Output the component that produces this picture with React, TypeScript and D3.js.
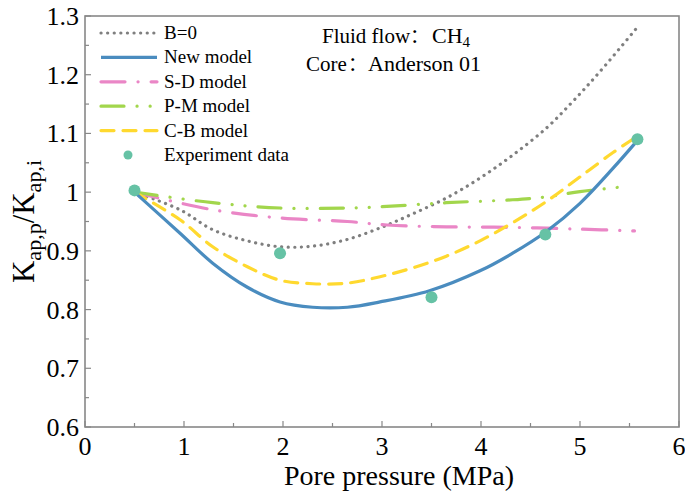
import React from "react";
import * as d3 from "d3";

const xB0 = [0.5, 0.96, 1.29, 1.64, 1.97, 2.3, 2.64, 2.98, 3.31, 3.65, 3.99, 4.32, 4.66, 4.93, 5.2, 5.57];
const yB0 = [1.0, 0.97, 0.936, 0.917, 0.907, 0.908, 0.919, 0.939, 0.963, 0.99, 1.024, 1.063, 1.109, 1.155, 1.205, 1.279];

const xNew = [0.5, 0.96, 1.29, 1.64, 1.97, 2.3, 2.65, 2.98, 3.48, 3.99, 4.32, 4.66, 5.0, 5.33, 5.57];
const yNew = [1.0, 0.93, 0.879, 0.838, 0.813, 0.804, 0.804, 0.813, 0.832, 0.866, 0.896, 0.933, 0.981, 1.04, 1.086];

const xSD = [0.5, 1.29, 1.97, 2.65, 3.05, 3.65, 4.32, 5.0, 5.55];
const ySD = [1.0, 0.97, 0.956, 0.95, 0.944, 0.941, 0.94, 0.937, 0.934];

const xPM = [0.5, 1.29, 1.97, 2.65, 2.98, 3.65, 4.32, 4.66, 5.0, 5.5];
const yPM = [1.0, 0.982, 0.973, 0.973, 0.975, 0.982, 0.987, 0.992, 1.001, 1.01];

const xCB = [0.5, 0.96, 1.29, 1.64, 1.97, 2.3, 2.65, 2.98, 3.31, 3.65, 3.99, 4.32, 4.66, 5.0, 5.33, 5.55];
const yCB = [1.0, 0.953, 0.907, 0.873, 0.85, 0.844, 0.845, 0.856, 0.871, 0.891, 0.917, 0.948, 0.984, 1.026, 1.067, 1.092];

const xExp = [0.5, 1.97, 3.5, 4.65, 5.58];
const yExp = [1.003, 0.896, 0.821, 0.928, 1.09];

const xTicks = [0, 1, 2, 3, 4, 5, 6];
const yTicks = [0.6, 0.7, 0.8, 0.9, 1.0, 1.1, 1.2, 1.3];
const yTickLabels = ["0.6", "0.7", "0.8", "0.9", "1", "1.1", "1.2", "1.3"];

const legendLabels = ["B=0", "New model", "S-D model", "P-M model", "C-B model", "Experiment data"];

const W = 685, H = 495;
const L = 85, R = 679, T = 16, B = 427;
const FONT = "Times New Roman, Liberation Serif, Times, serif";
const CJK = "Noto Sans CJK SC";

export default function App() {
  const x = d3.scaleLinear().domain([0, 6]).range([L, R]);
  const y = d3.scaleLinear().domain([0.6, 1.3]).range([B, T]);
  const mk = (xs: number[], ys: number[]) =>
    d3.line<number>().x((_, i) => x(xs[i])).y((_, i) => y(ys[i])).curve(d3.curveCatmullRom.alpha(0.5))(xs) || "";

  const series = [
    { d: mk(xB0, yB0), color: "#7f7f7f", dash: "0.1 6.5", w: 3.2 },
    { d: mk(xSD, ySD), color: "#ea86c6", dash: "24 13 0.1 13", w: 3.2 },
    { d: mk(xPM, yPM), color: "#a2d64c", dash: "23 13 0.1 13 0.1 13", w: 3.2 },
    { d: mk(xCB, yCB), color: "#ffd92f", dash: "13 9", w: 3.2 },
    { d: mk(xNew, yNew), color: "#4a8cbf", dash: "", w: 3.2 },
  ];

  const legendStyles = [
    { color: "#7f7f7f", dash: "0.1 6.5" },
    { color: "#4a8cbf", dash: "" },
    { color: "#ea86c6", dash: "24 13 0.1 13" },
    { color: "#a2d64c", dash: "23 13 0.1 13 0.1 13" },
    { color: "#ffd92f", dash: "13 9" },
  ];

  const xMinor = d3.range(0, 6.01, 0.5);
  const yMinor = d3.range(0.6, 1.301, 0.05);

  return (
    <svg width={W} height={H} style={{ position: "absolute", left: 0, top: 0, background: "#fff", fontFamily: FONT }}>
      <rect x={0} y={0} width={W} height={H} fill="#fff" />
      {xMinor.map((v, i) => (
        <line key={"xt" + i} x1={x(v)} x2={x(v)} y1={B} y2={B - (i % 2 === 0 ? 6 : 4)} stroke="#888" strokeWidth={1.2} />
      ))}
      {yMinor.map((v, i) => (
        <line key={"yt" + i} x1={L} x2={L + (i % 2 === 0 ? 6 : 4)} y1={y(v)} y2={y(v)} stroke="#888" strokeWidth={1.2} />
      ))}
      {series.map((s, i) => (
        <path key={"s" + i} d={s.d} fill="none" stroke={s.color} strokeWidth={s.w}
          strokeDasharray={s.dash || undefined} strokeLinecap={s.dash ? "round" : "butt"} strokeLinejoin="round" />
      ))}
      {xExp.map((v, i) => (
        <circle key={"e" + i} cx={x(v)} cy={y(yExp[i])} r={6} fill="#66c2a5" />
      ))}
      <rect x={L} y={T} width={R - L} height={B - T} fill="none" stroke="#888" strokeWidth={1.6} />
      {xTicks.map((v) => (
        <text key={"xl" + v} x={x(v)} y={455} textAnchor="middle" fontSize={26} fill="#000">{v}</text>
      ))}
      {yTicks.map((v, i) => (
        <text key={"yl" + i} x={L - 6} y={y(v) + 9} textAnchor="end" fontSize={26} fill="#000">{yTickLabels[i]}</text>
      ))}
      <text x={(L + R) / 2 + 17} y={485} textAnchor="middle" fontSize={28} fill="#000">Pore pressure (MPa)</text>
      <text transform={`translate(34, ${(T + B) / 2}) rotate(-90)`} textAnchor="middle" fontSize={31} fill="#000">
        K<tspan fontSize={22} dy={7}>ap,p</tspan><tspan dy={-7}>/K</tspan><tspan fontSize={22} dy={7}>ap,i</tspan>
      </text>
      {legendLabels.map((lab, i) => {
        const ly = 33 + i * 24.4;
        return (
          <g key={"lg" + i}>
            {i < 5 ? (
              <line x1={101} x2={157} y1={ly} y2={ly} stroke={legendStyles[i].color} strokeWidth={3.2}
                strokeDasharray={legendStyles[i].dash || undefined} strokeLinecap={legendStyles[i].dash ? "round" : "butt"} />
            ) : (
              <circle cx={128} cy={ly} r={4.5} fill="#66c2a5" />
            )}
            <text x={164} y={ly + 6} fontSize={19} fill="#000">{lab}</text>
          </g>
        );
      })}
      <text x={322} y={43} fontSize={21} fill="#000">Fluid flow</text>
      <text x={410} y={43} fontSize={19} fill="#000" fontFamily={CJK}>：</text>
      <text x={432} y={43} fontSize={22} fill="#000">CH<tspan fontSize={15} dy={4}>4</tspan></text>
      <text x={306} y={71} fontSize={21} fill="#000">Core</text>
      <text x={348} y={71} fontSize={19} fill="#000" fontFamily={CJK}>：</text>
      <text x={368} y={71} fontSize={22} fill="#000">Anderson 01</text>
    </svg>
  );
}
